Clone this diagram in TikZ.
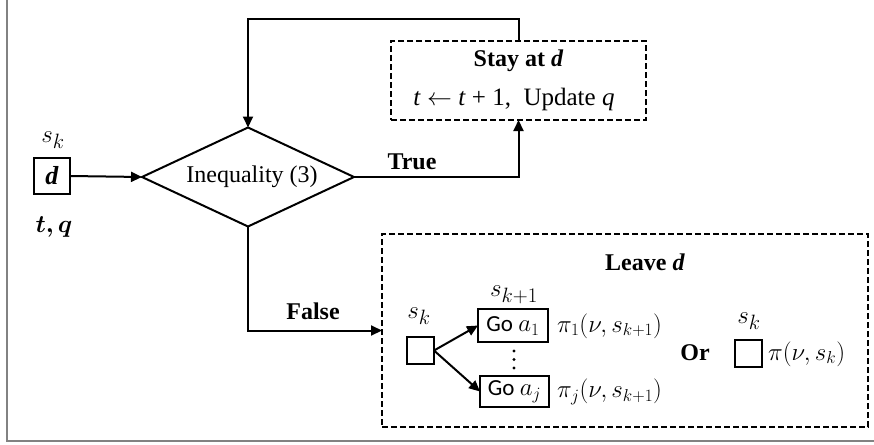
\documentclass[tikz,border=0pt]{standalone}
\usepackage{amsmath}
\usepackage{bm}
\usepackage{fontspec}
\setmainfont{Liberation Serif}
\newfontfamily\calib{Carlito}
\usetikzlibrary{shapes.geometric,arrows.meta,calc}
\definecolor{framegray}{RGB}{130,130,130}
\tikzset{
  arr/.style={-{Triangle[length=11pt,width=10pt]}, line width=2pt},
  solidbox/.style={draw, line width=2pt, inner sep=0pt, outer sep=0pt},
  dbox/.style={draw, line width=1.6pt, dash pattern=on 6pt off 3pt, inner sep=0pt, outer sep=0pt},
  lab/.style={inner sep=0pt, font=\fontsize{25}{29}\selectfont},
  blab/.style={inner sep=0pt, font=\fontsize{24}{28}\selectfont\bfseries},
  mlab/.style={inner sep=0pt, font=\fontsize{25}{30}\selectfont},
  plab/.style={inner sep=0pt, font=\fontsize{26.5}{31}\selectfont},
  slab/.style={inner sep=0pt, font=\fontsize{30}{34}\selectfont},
  golab/.style={inner sep=0pt, font=\fontsize{23}{27}\selectfont\calib},
}
\begin{document}
\begin{tikzpicture}[x=1pt,y=-1pt]
\useasboundingbox (0,0) rectangle (874,444);
% outer frame (left and bottom)
\draw[framegray, line width=2.5pt] (7,0) -- (7,441) -- (874,441);

% start box
\node[solidbox, minimum width=36pt, minimum height=36pt, font=\fontsize{26}{30}\selectfont] (d) at (52,176) {\textbf{\textit{d}}};
\node[slab] (sk0) at (53,140) {$s_k$};
\node[mlab] (tq) at (54,227) {$\bm{t,q}$};

% decision
\node[draw, shape=diamond, aspect=2.14, line width=2pt, minimum width=212pt, minimum height=99pt, inner sep=0pt, outer sep=0pt, font=\fontsize{24}{28}\selectfont] (dia) at (248,177) {\hspace*{8pt}Inequality (3)};

% stay box
\node[dbox, minimum width=255pt, minimum height=79pt] (stay) at (518.5,80.5) {};
\node[blab] (staytitle) at (518.5,61) {Stay at \textit{d}};
\node[lab] (stayline) at (514,99) {\textit{t} $\leftarrow$ \textit{t} + 1,\ \ Update \textit{q}};

% leave box
\node[dbox, minimum width=486pt, minimum height=193pt] (leave) at (625,330.5) {};
\node[blab] (leavetitle) at (645,262) {Leave \textit{d}};

\node[solidbox, minimum width=27pt, minimum height=27pt] (sq1) at (420.5,350.5) {};
\node[slab] (sk1) at (419,316) {$s_k$};
\node[solidbox, minimum width=70pt, minimum height=33pt] (go1) at (513,325.5) {};
\node[golab] (go1t) at (513,326) {Go $a_1$};
\node[solidbox, minimum width=69pt, minimum height=31pt] (goj) at (514.5,391.5) {};
\node[golab] (gojt) at (514.5,392) {Go $a_j$};
\node[slab] (sk1p) at (514,295) {$s_{k+1}$};
\fill (514,351) circle (1.6pt) (514,359.5) circle (1.6pt) (514,368) circle (1.6pt);
\node[plab, anchor=west] (pi1) at (557,326) {$\pi_1(\nu, s_{k+1})$};
\node[plab, anchor=west] (pij) at (557,392) {$\pi_j(\nu, s_{k+1})$};

\node[blab] (or) at (695,353) {Or};
\node[solidbox, minimum width=27pt, minimum height=27pt] (sq2) at (748.5,353) {};
\node[slab] (sk2) at (749,321) {$s_k$};
\node[plab, anchor=west] (pik) at (768,354) {$\pi(\nu, s_k)$};

% connectors
\draw[arr] (d.east) -- (dia.west);
\coordinate (looptop) at (383,19);
\draw[arr] (stay.north) |- (looptop) -| (dia.north);
\draw[arr] (dia.east) -| (stay.south);
\node[blab] (truelab) at (412,162) {True};
\draw[arr] (dia.south) |- (leave.west);
\node[blab] (falselab) at (313,311) {False};
\draw[arr] (sq1.east) -- (go1.west);
\draw[arr] (sq1.east) -- (goj.west);
\end{tikzpicture}
\end{document}
